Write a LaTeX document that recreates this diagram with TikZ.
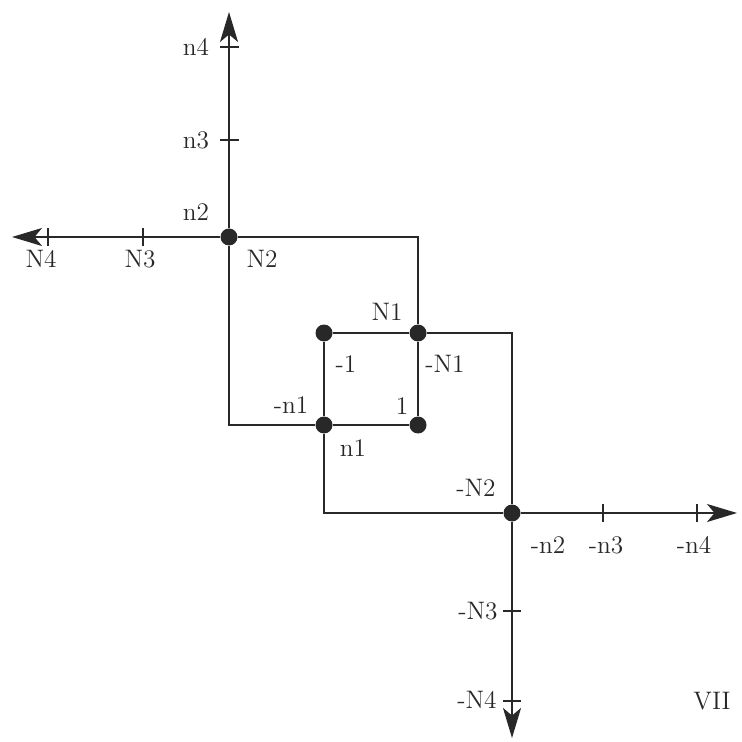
\documentclass[tikz,border=0pt]{standalone}
\usepackage{xcolor}
\usetikzlibrary{arrows.meta,positioning}
\definecolor{inkgrey}{RGB}{40,40,40}

\begin{document}
\begin{tikzpicture}[
    x=0.02cm, y=-0.02cm,
    knot/.style={circle, fill=inkgrey, inner sep=0pt, minimum size=0.34cm},
    lbl/.style={font=\fontsize{14.4}{16}\selectfont, text=inkgrey, inner sep=0pt},
    wire/.style={draw=inkgrey, line width=1.1pt},
    axis/.style={wire, -{Stealth[length=0.6cm, width=0.36cm, inset=0.15cm]}},
    tick/.style={draw=inkgrey, line width=0.8pt}
]
\useasboundingbox (0,0) rectangle (741,742);

% knots
\node[knot] (N2) at (229,237) {};
\node[knot] (N1) at (418,333) {};
\node[knot] (sq) at (324,333) {};
\node[knot] (n1) at (324,425) {};
\node[knot] (one) at (418,425) {};
\node[knot] (mN2) at (512,513) {};

% axis ends
\coordinate (up) at (229,12);
\coordinate (lt) at (12,237);
\coordinate (rt) at (737,513);
\coordinate (dn) at (512,738);

% axes
\draw[axis] (N2) -- (up);
\draw[axis] (N2) -- (lt);
\draw[axis] (mN2) -- (rt);
\draw[axis] (mN2) -- (dn);

% ticks
\foreach \y in {47,140} \draw[tick] (220,\y) -- (239,\y);
\foreach \x in {48,143} \draw[tick] (\x,228) -- (\x,246);
\foreach \x in {603,697} \draw[tick] (\x,504) -- (\x,522);
\foreach \y in {611,701} \draw[tick] (503,\y) -- (521,\y);

% loops
\draw[wire] (N2) -| (N1);
\draw[wire] (N1) -| (mN2);
\draw[wire] (N2) |- (n1);
\draw[wire] (n1) |- (mN2);
\draw[wire] (sq) -- (N1);
\draw[wire] (sq) -- (n1);
\draw[wire] (N1) -- (one);
\draw[wire] (n1) -- (one);

% labels
\node[lbl] (ln4) at (196,47) {n4};
\node[lbl] (ln3) at (196,140) {n3};
\node[lbl] (ln2) at (196,212) {n2};
\node[lbl] (lN4) at (41,259) {N4};
\node[lbl] (lN3) at (140,259) {N3};
\node[lbl] (lN2) at (262,259) {N2};
\node[lbl] (lN1) at (387,312) {N1};
\node[lbl] (lm1) at (346,364) {-1};
\node[lbl] (lmN1) at (445,364) {-N1};
\node[lbl] (lmn1) at (291,405) {-n1};
\node[lbl] (l1) at (402,406) {1};
\node[lbl] (ln1) at (353,448) {n1};
\node[lbl] (lmN2) at (476,488) {-N2};
\node[lbl] (lmn2) at (548,545) {-n2};
\node[lbl] (lmn3) at (606,545) {-n3};
\node[lbl] (lmn4) at (694,545) {-n4};
\node[lbl] (lmN3) at (478,611) {-N3};
\node[lbl] (lmN4) at (477,700) {-N4};
\node[lbl] (lVII) at (712,701) {VII};
\end{tikzpicture}
\end{document}
